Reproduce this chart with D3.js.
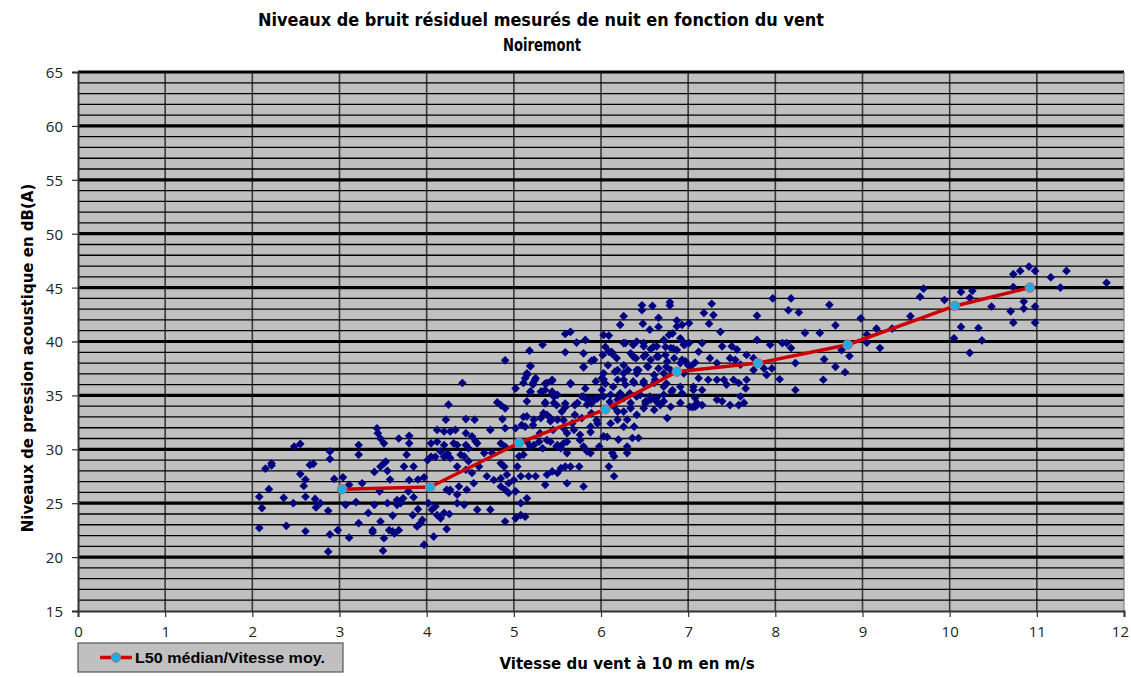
<!DOCTYPE html>
<html>
<head>
<meta charset="utf-8">
<script src="https://cdn.jsdelivr.net/npm/d3@7"></script>
<style>
  body { margin: 0; background: #fff; }
  svg { display: block; }
  .tick-label { font-family: "Liberation Sans Narrow", "Open Sans", sans-serif; font-size: 15px; fill: #222; }
  .titre { font-family: "Liberation Sans Narrow", "DejaVu Sans", sans-serif; font-weight: bold; font-size: 17px; fill: #000; }
  .axe-titre { font-family: "Liberation Sans Narrow", "DejaVu Sans", sans-serif; font-weight: bold; font-size: 15px; fill: #000; }
  .legende { font-family: "Liberation Sans", Arial, sans-serif; font-weight: bold; font-size: 14px; fill: #000; }
</style>
</head>
<body>
<svg id="chart" width="1131" height="677"></svg>
<script>

// titles
var titre1 = "Niveaux de bruit  résiduel mesurés de nuit en fonction  du vent"
var titre2 = "Noiremont"
var titreX = "Vitesse du vent  à 10 m en m/s"
var titreY = "Niveaux de pression acoustique en dB(A)"
var legendeL50 = "L50 médian/Vitesse moy."

// axis ticks
var ticksX = [0, 1, 2, 3, 4, 5, 6, 7, 8, 9, 10, 11, 12]
var ticksY = [15, 20, 25, 30, 35, 40, 45, 50, 55, 60, 65]

// L50 median per wind class [vitesse m/s, dB(A)]
var medianL50 = [[3.03, 26.3], [4.04, 26.5], [5.06, 30.6], [6.05, 33.7], [6.87, 37.2],
	[7.80, 38.0], [8.83, 39.7], [10.06, 43.3], [10.92, 45.0]]

// residual noise measurements, 2-4 m/s
var mesures2a4 = [[2.48,30.25],[2.55,30.5],[2.89,29.8],[2.89,29.1],[2.15,28.2],[2.22,28.7],[2.22,28.5],[2.66,28.55],
	[2.70,28.65],[2.55,27.7],[2.61,27.2],[2.94,27.25],[2.59,26.6],[2.19,26.3],[2.08,25.6],[2.36,25.5],[2.61,25.6],
	[2.47,25.0],[2.72,25.4],[2.73,24.6],[2.78,25.0],[2.11,24.55],[2.87,24.3],[2.08,22.7],[2.39,22.9],[2.61,22.4],
	[2.98,22.5],[2.89,22.1],[2.87,20.5],[3.11,21.8],[3.07,24.85],[3.04,27.4],[3.11,26.7],[3.19,25.1],[3.22,23.15],
	[3.22,30.4],[3.22,29.5],[3.26,26.85],[3.33,24.1],[3.40,27.9],[3.40,24.85],[3.43,31.95],[3.44,31.5],[3.47,31.0],
	[3.51,30.55],[3.47,28.4],[3.51,28.7],[3.53,28.85],[3.55,28.0],[3.46,26.1],[3.38,22.5],[3.38,22.3],[3.47,23.3],
	[3.51,21.75],[3.50,20.6],[3.55,25.0],[3.58,27.2],[3.57,22.5],[3.61,22.4],[3.63,22.2],[3.68,22.5],[3.61,23.85],
	[3.66,25.3],[3.66,24.85],[3.70,25.0],[3.68,31.0],[3.80,31.25],[3.80,30.55],[3.77,29.5],[3.74,28.4],[3.85,28.4],
	[3.80,27.15],[3.73,25.45],[3.79,26.1],[3.85,25.55],[3.84,23.9],[3.90,24.45],[3.89,22.85],[3.93,23.15],[3.95,23.45],
	[3.97,21.15],[3.90,27.2],[3.97,27.4],[4.01,29.0],[4.05,29.3],[4.02,25.0],[4.06,24.4],[4.10,24.7],[4.12,23.9],
	[4.16,23.6],[4.20,24.1],[4.26,24.0],[4.08,21.9],[4.23,22.6],[4.23,26.25],[4.26,26.1],[4.12,31.8],[4.20,31.65],
	[4.05,30.55],[4.12,30.7],[4.20,30.4],[4.24,29.6],[4.10,29.3],[4.16,29.8],[4.20,29.3],[4.25,34.15],[4.22,32.75]]

// 4.3-7.1 m/s
var mesures4a7 = [[6.22,41.55],[6.48,41.65],[6.56,41.1],[6.66,41.35],[6.78,40.6],[6.82,40.75],[6.87,41.4],[6.93,41.55],
	[7.01,41.7],[6.91,40.3],[6.95,39.9],[7.01,39.85],[5.59,40.7],[5.65,40.9],[5.72,39.9],[5.82,40.15],[6.03,40.6],
	[6.09,40.55],[6.26,39.85],[6.37,39.7],[6.41,40.0],[6.49,39.55],[6.57,39.3],[6.64,39.55],[6.72,40.15],[6.80,39.4],
	[6.87,39.2],[6.95,39.7],[5.33,39.7],[5.18,39.15],[5.59,39.0],[5.80,38.9],[5.92,38.3],[6.02,38.75],[6.09,39.05],
	[6.13,38.85],[6.34,38.9],[6.40,38.45],[6.49,38.6],[6.57,38.3],[6.66,38.6],[6.76,38.15],[6.84,38.45],[6.91,38.0],
	[6.97,38.15],[7.03,37.7],[7.08,38.05],[4.90,38.25],[5.19,37.75],[5.80,37.6],[6.19,37.35],[6.26,37.05],[6.41,37.35],
	[6.53,37.7],[6.61,36.9],[6.72,37.05],[6.80,37.35],[6.95,37.05],[5.15,37.05],[5.13,36.6],[5.25,36.6],[5.11,36.15],
	[5.22,36.15],[5.38,36.15],[5.44,36.45],[5.65,36.15],[5.94,36.3],[6.03,36.5],[6.19,36.45],[6.28,36.0],[6.38,36.15],
	[6.49,36.3],[6.61,36.15],[6.72,35.8],[6.82,35.5],[6.91,35.8],[4.41,36.15],[5.02,35.65],[5.19,35.35],[5.31,35.35],
	[5.36,35.5],[5.44,35.2],[5.46,34.9],[5.50,35.05],[5.82,35.65],[5.80,34.9],[5.88,34.6],[5.96,34.75],[6.01,35.5],
	[6.11,35.05],[6.19,34.6],[6.26,34.75],[6.34,34.3],[6.41,34.9],[6.51,34.45],[6.57,34.6],[6.64,34.75],[6.72,34.45],
	[6.80,33.95],[6.91,34.3],[7.05,33.9],[7.10,34.3],[4.81,34.35],[4.85,34.1],[4.90,33.8],[5.15,34.45],[5.36,34.35],
	[5.46,34.3],[5.59,33.9],[5.73,34.3],[5.84,34.15],[5.92,34.6],[6.15,33.95],[6.19,33.5],[6.26,33.5],[6.34,33.8],
	[6.41,33.2],[6.49,33.8],[6.61,33.65],[6.68,34.1],[6.76,32.9],[4.45,32.8],[4.55,32.75],[4.73,31.8],[4.87,32.8],
	[4.90,31.95],[5.02,31.95],[5.13,32.1],[5.15,33.05],[5.23,32.75],[5.31,32.9],[5.38,33.2],[5.42,32.6],[5.50,32.75],
	[5.57,31.95],[5.61,31.5],[5.69,31.8],[5.76,31.35],[5.88,32.1],[5.96,32.4],[6.11,32.4],[6.19,32.75],[6.26,32.1],
	[6.30,32.75],[6.38,32.1],[6.36,31.05],[6.43,31.05],[4.27,31.65],[4.33,31.8],[4.45,31.5],[4.52,31.2],[4.56,30.75],
	[4.31,30.55],[4.35,30.4],[4.45,30.4],[4.48,30.1],[4.58,30.55],[4.66,29.65],[4.75,29.65],[4.85,30.55],[4.90,30.25],
	[4.85,28.7],[4.89,28.4],[5.04,28.4],[5.06,29.35],[5.11,29.5],[5.19,30.25],[5.23,30.4],[5.29,30.7],[5.33,30.1],
	[5.42,30.7],[5.50,30.4],[5.57,30.55],[5.54,30.1],[5.61,29.65],[5.80,30.25],[5.84,29.8],[5.88,29.65],[5.98,30.25],
	[6.03,31.2],[6.13,29.65],[6.15,29.35],[6.20,30.9],[6.30,30.25],[6.30,29.65],[4.27,29.2],[4.39,29.5],[4.43,29.35],
	[4.48,28.9],[4.35,28.4],[4.45,28.1],[4.52,27.8],[4.60,28.4],[4.69,27.5],[4.77,27.15],[4.85,27.3],[4.92,27.65],
	[4.94,26.85],[5.00,27.15],[5.08,27.5],[5.17,27.5],[5.25,27.5],[5.38,27.65],[5.44,27.95],[5.50,27.8],[5.54,28.25],
	[5.59,28.4],[5.65,28.4],[5.75,28.4],[5.61,26.85],[5.80,26.55],[6.09,28.4],[6.15,27.5],[4.27,26.25],[4.35,25.8],
	[4.37,26.55],[4.46,26.25],[4.54,26.85],[4.35,25.0],[4.43,24.85],[4.58,24.4],[4.73,24.4],[4.85,26.55],[4.90,26.25],
	[4.94,25.95],[5.02,26.1],[5.08,25.0],[5.15,25.45],[5.08,23.9],[5.13,23.75],[5.02,23.6],[4.90,23.3],[5.36,26.7],
	[6.47,43.36],[6.47,42.9],[6.59,43.3],[6.79,43.65],[6.79,43.35],[6.26,42.35],[6.66,42.2],[6.87,41.95]]

// dense core, 5-7 m/s
var mesuresCoeur = [[6.05,39.5],[6.12,39.05],[6.18,38.45],[6.08,37.8],[6.03,37.05],[6.16,37.2],[6.26,37.8],[6.28,39.85],
	[6.37,39.7],[6.49,39.85],[6.60,39.5],[6.74,39.5],[6.83,39.35],[6.96,39.7],[6.37,38.6],[6.51,38.75],[6.64,38.6],
	[6.74,38.75],[6.93,38.3],[7.00,37.8],[6.31,37.35],[6.43,37.35],[6.54,37.65],[6.66,37.5],[6.75,37.65],[6.05,36.1],
	[6.14,35.8],[6.26,36.45],[6.37,36.3],[6.49,36.1],[6.62,36.45],[6.75,36.1],[6.22,35.2],[6.33,35.2],[6.45,35.05],
	[6.56,34.9],[6.72,35.05],[6.81,35.35],[6.93,35.2],[7.06,35.5],[6.10,34.4],[6.51,34.25],[6.64,34.4],[7.08,33.95],
	[6.41,37.05],[5.19,37.7],[5.15,36.9],[5.24,36.4],[5.22,36.0],[5.36,36.1],[5.44,36.35],[5.65,36.05],[5.80,37.65],
	[5.89,38.2],[6.01,36.6],[5.19,35.35],[5.32,35.35],[5.44,35.35],[5.46,34.9],[5.36,34.25],[5.49,34.1],[5.59,34.25],
	[5.70,34.1],[5.78,34.9],[5.84,34.6],[5.89,34.25],[5.95,34.7],[6.03,34.9],[5.11,33.0],[5.34,33.35],[5.42,32.9],
	[5.55,33.5],[5.57,32.7],[5.70,33.2],[5.78,32.9],[5.89,33.35],[5.95,32.7],[5.22,32.25],[5.09,32.25],[5.30,31.5],
	[5.45,31.8],[5.67,32.4],[5.88,31.6],[6.07,31.15],[5.15,30.7],[5.38,30.85],[5.61,30.7],[5.76,30.85],[5.49,30.25]]

// 7.1-12 m/s
var mesures7a12 = [[7.27,43.5],[7.18,42.65],[7.29,42.45],[7.24,41.65],[7.37,40.9],
	[7.79,42.4],[7.97,44.0],[8.18,44.0],[8.15,42.9],[8.27,42.7],[8.34,40.8],[8.51,40.8],[8.62,43.4],[7.79,40.15],
	[7.16,39.85],[7.12,39.05],[7.25,38.45],[7.39,39.55],[7.50,39.55],[7.56,39.25],[7.67,38.75],[7.75,38.45],[7.48,38.45],
	[7.54,38.3],[7.60,37.85],[7.33,38.0],[7.94,39.7],[8.08,39.85],[8.13,39.85],[8.18,39.4],[8.23,38.0],[8.56,38.35],
	[8.05,36.5],[8.23,35.5],[8.55,36.45],[7.87,37.5],[7.96,37.5],[7.90,36.9],[7.75,37.35],[7.67,36.45],[7.66,35.65],
	[7.58,36.15],[7.52,36.45],[7.44,36.0],[7.41,36.45],[7.33,36.45],[7.23,36.45],[7.12,36.6],[7.06,35.8],[7.16,35.5],
	[7.08,34.75],[7.02,33.95],[7.10,34.1],[7.16,34.1],[7.33,34.6],[7.39,34.45],[7.48,34.1],[7.60,34.9],[7.64,34.3],
	[7.58,34.1],[8.69,41.5],[8.98,42.15],[9.05,40.65],[9.05,39.9],[9.16,41.2],[9.20,39.4],[9.34,41.2],[9.55,42.35],
	[9.66,44.15],[9.70,44.9],[9.94,43.85],[10.13,44.6],[10.23,44.05],[10.26,44.7],[10.48,43.25],[10.13,41.35],
	[10.05,40.3],[10.23,38.95],[10.33,41.25],[10.37,40.1],[10.70,42.8],[10.73,41.75],[10.73,45.05],[10.73,46.25],
	[10.81,46.55],[10.91,46.95],[10.98,46.55],[10.85,43.7],[10.85,43.05],[10.98,43.25],[10.98,41.75],[11.16,45.95],
	[11.27,45.0],[11.34,46.55],[11.80,45.45],[8.76,39.2],[8.85,38.65],[8.69,37.65],[8.80,37.15]]

var mesures = mesures2a4.concat(mesures4a7, mesuresCoeur, mesures7a12)

var svg = d3.select("#chart")
var plotLeft = 78, plotRight = 1124, plotTop = 72, plotBottom = 611

var x = d3.scaleLinear().domain([0, 12]).range([plotLeft, plotRight])
var y = d3.scaleLinear().domain([15, 65]).range([plotBottom, plotTop])

// plot area
svg.append("rect")
	.attr("x", plotLeft).attr("y", plotTop)
	.attr("width", plotRight - plotLeft).attr("height", plotBottom - plotTop)
	.attr("fill", "#c0c0c0")

// vertical grid
svg.append("g").selectAll("line")
	.data(d3.range(1, 12))
	.enter().append("line")
	.attr("x1", function(d) { return x(d) }).attr("x2", function(d) { return x(d) })
	.attr("y1", plotTop).attr("y2", plotBottom)
	.attr("stroke", "#3a3a3a").attr("stroke-width", 1.6)

// horizontal grid, 1 dB, heavy every 5
svg.append("g").selectAll("line")
	.data(d3.range(16, 66))
	.enter().append("line")
	.attr("x1", plotLeft).attr("x2", plotRight)
	.attr("y1", function(d) { return y(d) }).attr("y2", function(d) { return y(d) })
	.attr("stroke", "#000")
	.attr("stroke-width", function(d) { return d % 5 == 0 ? 3.2 : 1.3 })

// right border
svg.append("line")
	.attr("x1", plotRight).attr("x2", plotRight).attr("y1", plotTop).attr("y2", plotBottom)
	.attr("stroke", "#808080").attr("stroke-width", 1.2)

// axes
var axeX = svg.append("g").attr("transform", "translate(0," + plotBottom + ")")
	.call(d3.axisBottom(x).tickValues(ticksX).tickSize(6).tickPadding(9).tickFormat(d3.format("d")))
var axeY = svg.append("g").attr("transform", "translate(" + plotLeft + ",0)")
	.call(d3.axisLeft(y).tickValues(ticksY).tickSize(6).tickPadding(9).tickFormat(d3.format("d")))
;[axeX, axeY].forEach(function(a) {
	a.select(".domain").attr("stroke", "#333").attr("stroke-width", 2)
	a.selectAll(".tick line").attr("stroke", "#333").attr("stroke-width", 1.2)
	a.selectAll(".tick text").attr("class", "tick-label").attr("font-size", null).attr("font-family", null)
})
axeY.selectAll(".tick text").attr("dy", "0.36em")
axeX.select(".tick:last-of-type text").attr("text-anchor", "end").attr("dx", "0.3em")

// scatter
svg.append("g").selectAll("path")
	.data(mesures)
	.enter().append("path")
	.attr("d", d3.symbol().type(d3.symbolDiamond2).size(48))
	.attr("transform", function(d) { return "translate(" + x(d[0]) + "," + y(d[1]) + ")" })
	.attr("fill", "#000080")

// median line
var ligne = d3.line().x(function(d) { return x(d[0]) }).y(function(d) { return y(d[1]) })
svg.append("path")
	.datum(medianL50)
	.attr("d", ligne)
	.attr("fill", "none")
	.attr("stroke", "#cc0000").attr("stroke-width", 3.5)
	.attr("stroke-linejoin", "round")
svg.append("g").selectAll("circle")
	.data(medianL50)
	.enter().append("circle")
	.attr("cx", function(d) { return x(d[0]) }).attr("cy", function(d) { return y(d[1]) })
	.attr("r", 4.8)
	.attr("fill", "#1aaee6").attr("stroke", "#c86a6a").attr("stroke-width", 1)

// titles
svg.append("text").attr("class", "titre")
	.attr("x", 541).attr("y", 26).attr("text-anchor", "middle")
	.attr("textLength", 566).attr("lengthAdjust", "spacingAndGlyphs")
	.text(titre1)
svg.append("text").attr("class", "titre")
	.attr("x", 542).attr("y", 51).attr("text-anchor", "middle")
	.attr("textLength", 78).attr("lengthAdjust", "spacingAndGlyphs")
	.text(titre2)
svg.append("text").attr("class", "axe-titre")
	.attr("x", 627).attr("y", 669).attr("text-anchor", "middle")
	.text(titreX)
svg.append("text").attr("class", "axe-titre")
	.attr("transform", "translate(33,358) rotate(-90)")
	.attr("text-anchor", "middle")
	.text(titreY)

// legend
var leg = svg.append("g")
leg.append("rect")
	.attr("x", 78).attr("y", 643).attr("width", 265).attr("height", 29)
	.attr("fill", "#c0c0c0").attr("stroke", "#555").attr("stroke-width", 1.2)
leg.append("line")
	.attr("x1", 100).attr("x2", 132).attr("y1", 657.5).attr("y2", 657.5)
	.attr("stroke", "#cc0000").attr("stroke-width", 3.5)
leg.append("circle")
	.attr("cx", 116).attr("cy", 657.5).attr("r", 4.8)
	.attr("fill", "#1aaee6").attr("stroke", "#c86a6a").attr("stroke-width", 1)
leg.append("text").attr("class", "legende")
	.attr("x", 135).attr("y", 663)
	.attr("textLength", 190).attr("lengthAdjust", "spacingAndGlyphs")
	.text(legendeL50)

</script>
</body>
</html>
